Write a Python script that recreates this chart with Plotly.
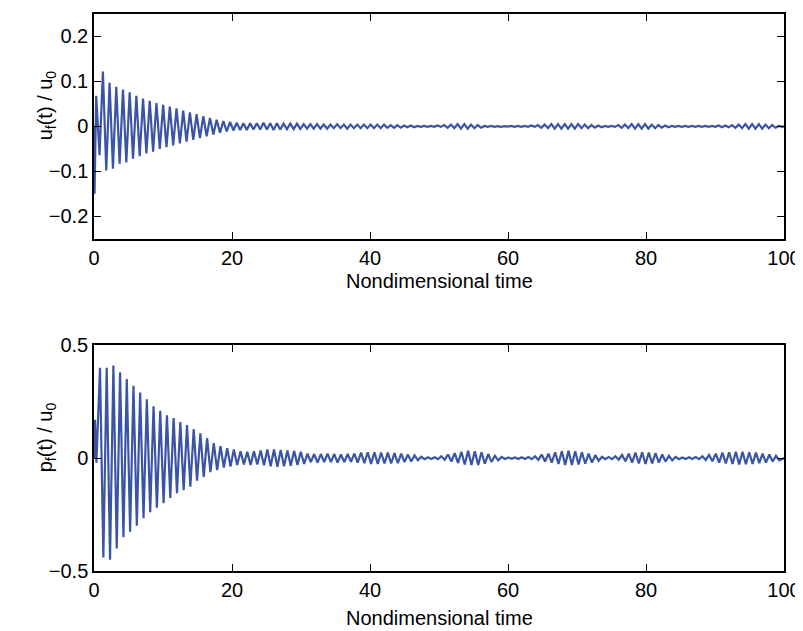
import plotly.graph_objects as go
from plotly.subplots import make_subplots

# ---------------- data ----------------
period = 0.97  # nondimensional time between successive peaks

# u_f(t)/u_0 : start transient, then per-cycle maxima and minima
u_start_t = [0.0, 0.08]
u_start_v = [0.0, -0.15]
u_first_peak_t = 0.32
u_max = [0.068, 0.122, 0.097, 0.088, 0.082, 0.076, 0.068, 0.062, 0.057, 0.052, 0.048,
         0.044, 0.040, 0.035, 0.031, 0.027, 0.023, 0.019, 0.015, 0.012, 0.010,
         0.008, 0.007, 0.007, 0.007, 0.008, 0.007, 0.007, 0.006, 0.006, 0.006,
         0.005, 0.005, 0.005, 0.004, 0.004, 0.005, 0.004, 0.004, 0.004, 0.004,
         0.004, 0.004, 0.004, 0.003, 0.003, 0.002, 0.002,
         0.001, 0.001, 0.001, 0.002,
         0.003, 0.004, 0.005, 0.005, 0.004, 0.003,
         0.001, 0.001, 0.0005, 0.0005, 0.001, 0.001, 0.001, 0.002,
         0.003, 0.004, 0.005, 0.005, 0.005, 0.005, 0.005, 0.004, 0.003, 0.002,
         0.001, 0.001,
         0.003, 0.004, 0.005, 0.005, 0.005, 0.004, 0.003, 0.002,
         0.001, 0.001, 0.001, 0.001, 0.001, 0.001, 0.001, 0.002, 0.002,
         0.003, 0.004, 0.005, 0.005, 0.005, 0.004, 0.003,
         0.001]
u_min = [-0.064, -0.098, -0.094, -0.083, -0.080, -0.072, -0.066, -0.060, -0.056, -0.050, -0.046,
         -0.042, -0.038, -0.034, -0.030, -0.026, -0.022, -0.018, -0.014, -0.011, -0.009,
         -0.008, -0.008, -0.007, -0.007, -0.007, -0.008, -0.007, -0.006, -0.006, -0.006,
         -0.005, -0.005, -0.005, -0.005, -0.004, -0.004, -0.005, -0.004, -0.004, -0.004,
         -0.004, -0.004, -0.003, -0.003, -0.003, -0.002, -0.002,
         -0.001, -0.001, -0.001, -0.001,
         -0.003, -0.004, -0.005, -0.005, -0.004, -0.003,
         -0.001, -0.001, -0.001, -0.0005, -0.001, -0.001, -0.001, -0.001,
         -0.003, -0.004, -0.005, -0.005, -0.005, -0.005, -0.004, -0.004, -0.003, -0.002,
         -0.001, -0.001,
         -0.003, -0.004, -0.005, -0.005, -0.005, -0.004, -0.003, -0.002,
         -0.001, -0.001, -0.001, -0.001, -0.001, -0.001, -0.001, -0.002, -0.002,
         -0.003, -0.004, -0.005, -0.005, -0.005, -0.004, -0.003,
         -0.001]

# p_f(t)/u_0
p_start_t = [0.0, 0.15, 0.35]
p_start_v = [0.0, 0.17, -0.02]
p_first_peak_t = 0.87
p_max = [0.40, 0.40, 0.41, 0.38, 0.35, 0.32, 0.29, 0.26, 0.23, 0.21, 0.19,
         0.177, 0.16, 0.146, 0.128, 0.11, 0.088, 0.066, 0.053, 0.044, 0.038,
         0.030, 0.028, 0.030,
         0.034, 0.038, 0.038, 0.036, 0.034, 0.032,
         0.028,
         0.020, 0.018, 0.018, 0.020, 0.018, 0.016, 0.018,
         0.020, 0.024, 0.026, 0.026, 0.025, 0.024, 0.022, 0.020, 0.016, 0.012,
         0.006, 0.004, 0.004, 0.008,
         0.016, 0.022, 0.028, 0.032, 0.030, 0.026, 0.018, 0.010,
         0.005, 0.003, 0.003, 0.004, 0.005, 0.008,
         0.016, 0.020, 0.026, 0.030, 0.032, 0.030, 0.026, 0.020, 0.013,
         0.006, 0.005, 0.008,
         0.014, 0.020, 0.024, 0.026, 0.025, 0.022, 0.016, 0.010,
         0.005, 0.003, 0.004, 0.005, 0.008,
         0.014, 0.020, 0.024, 0.026, 0.028, 0.028, 0.026, 0.024, 0.020, 0.016, 0.010]
p_min = [-0.44, -0.45, -0.40, -0.35, -0.326, -0.30, -0.266, -0.24, -0.22, -0.20, -0.177,
         -0.155, -0.142, -0.127, -0.10, -0.083, -0.062, -0.053, -0.042, -0.037, -0.031,
         -0.028, -0.030, -0.028,
         -0.032, -0.036, -0.038, -0.036, -0.034, -0.030,
         -0.026,
         -0.018, -0.020, -0.018, -0.018, -0.020, -0.018, -0.016,
         -0.020, -0.022, -0.026, -0.026, -0.024, -0.024, -0.022, -0.018, -0.015, -0.010,
         -0.005, -0.004, -0.005, -0.007,
         -0.015, -0.022, -0.028, -0.030, -0.030, -0.025, -0.017, -0.010,
         -0.004, -0.003, -0.004, -0.004, -0.005, -0.008,
         -0.015, -0.020, -0.026, -0.030, -0.030, -0.028, -0.025, -0.020, -0.012,
         -0.005, -0.005, -0.007,
         -0.014, -0.020, -0.024, -0.026, -0.024, -0.020, -0.015, -0.010,
         -0.005, -0.004, -0.004, -0.005, -0.008,
         -0.014, -0.020, -0.024, -0.026, -0.028, -0.027, -0.026, -0.022, -0.020, -0.015, -0.010]

t_end = 100.0
x_ticks = [0, 20, 40, 60, 80, 100]
u_ticks = [-0.2, -0.1, 0, 0.1, 0.2]
u_tick_text = ["\u22120.2", "\u22120.1", "0", "0.1", "0.2"]
p_ticks = [-0.5, 0, 0.5]
p_tick_text = ["\u22120.5", "0", "0.5"]
x_title = "Nondimensional time"
u_title = "u<sub>f</sub>(t) / u<sub>0</sub>"
p_title = "p<sub>f</sub>(t) / u<sub>0</sub>"


def build(start_t, start_v, t0, maxima, minima):
    xs = list(start_t)
    ys = list(start_v)
    for k, (hi, lo) in enumerate(zip(maxima, minima)):
        tk = t0 + k * period
        xs += [tk, tk + period / 2]
        ys += [hi, lo]
    xs.append(t_end)
    ys.append(0.0)
    return xs, ys


ux, uy = build(u_start_t, u_start_v, u_first_peak_t, u_max, u_min)
px, py = build(p_start_t, p_start_v, p_first_peak_t, p_max, p_min)

line_color = "#3a54a6"
font_family = "Liberation Sans, Arial, Helvetica, sans-serif"
tfont = dict(size=20, color="black", family=font_family)

fig = make_subplots(rows=2, cols=1)
fig.add_trace(go.Scatter(x=ux, y=uy, mode="lines",
                         line=dict(color=line_color, width=2.2)), row=1, col=1)
fig.add_trace(go.Scatter(x=px, y=py, mode="lines",
                         line=dict(color=line_color, width=2.2)), row=2, col=1)

axis_common = dict(showline=True, linecolor="black", linewidth=1.5, mirror="ticks",
                   ticks="inside", ticklen=7, tickwidth=1.2, tickcolor="black",
                   showgrid=False, zeroline=False, automargin=False,
                   tickfont=tfont)

for r in (1, 2):
    fig.update_xaxes(range=[0, 100], tickvals=x_ticks, row=r, col=1, **axis_common)

fig.update_yaxes(range=[-0.25, 0.25], tickvals=u_ticks, ticktext=u_tick_text,
                 row=1, col=1, **axis_common)
fig.update_yaxes(range=[-0.5, 0.5], tickvals=p_ticks, ticktext=p_tick_text,
                 row=2, col=1, **axis_common)

# page has an 8px body margin: figure is 795x623 drawn at offset (8, 8)
fig.update_layout(
    width=795, height=623,
    margin=dict(l=86, r=19, t=5.5, b=60, autoexpand=False),
    paper_bgcolor="white", plot_bgcolor="white",
    showlegend=False,
    font=dict(family=font_family, color="black"),
    yaxis=dict(domain=[0.5964, 1.0]),
    yaxis2=dict(domain=[0.0, 0.4054]),
)

annotations = [
    dict(text=x_title, x=0.5, y=0.520, xref="paper", yref="paper",
         xanchor="center", yanchor="middle", showarrow=False, font=tfont),
    dict(text=x_title, x=0.5, y=-0.0843, xref="paper", yref="paper",
         xanchor="center", yanchor="middle", showarrow=False, font=tfont),
    dict(text=u_title, x=-0.0696, y=0.836, xref="paper", yref="paper",
         xanchor="center", yanchor="middle", textangle=-90, showarrow=False, font=tfont),
    dict(text=p_title, x=-0.0696, y=0.240, xref="paper", yref="paper",
         xanchor="center", yanchor="middle", textangle=-90, showarrow=False, font=tfont),
]
fig.update_layout(annotations=annotations)

fig.write_html("out.html")
